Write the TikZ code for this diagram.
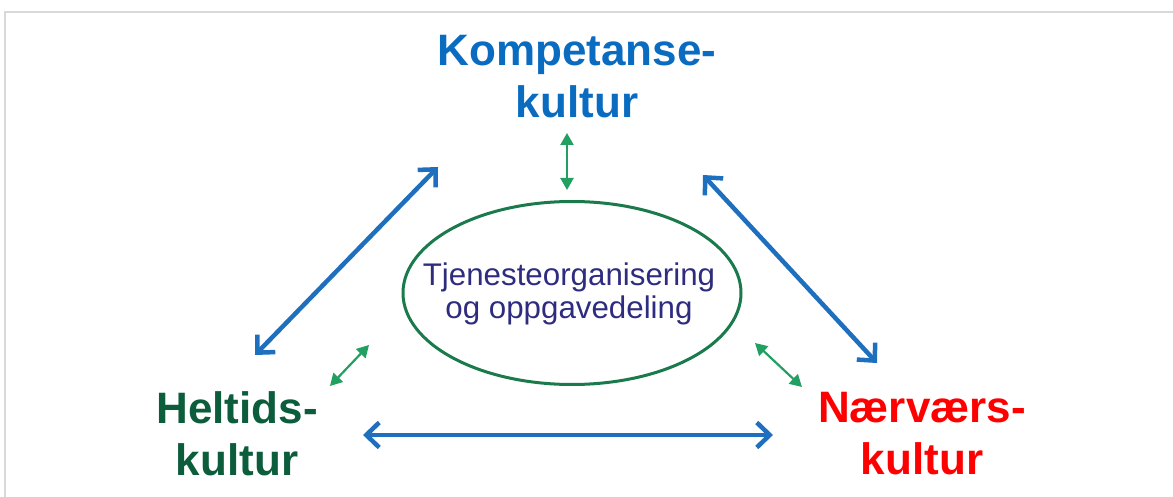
\documentclass[tikz,border=0pt]{standalone}
\usepackage{fontspec}
\setmainfont{Liberation Sans}
\usetikzlibrary{arrows.meta,shapes.geometric}
\definecolor{kblue}{HTML}{0A6CC0}
\definecolor{hgreen}{HTML}{0B5D3B}
\definecolor{nred}{HTML}{FF0000}
\definecolor{tnavy}{HTML}{2E2C7E}
\definecolor{egreen}{HTML}{1A7A4C}
\definecolor{sgreen}{HTML}{21A062}
\definecolor{bigblue}{HTML}{1F6FBF}
\definecolor{framegray}{HTML}{D9D9D9}
\tikzset{
  culture/.style={font=\bfseries\fontsize{44}{52}\selectfont, align=center, inner sep=0pt},
  bigarrow/.style={bigblue, line width=4.5pt, {Straight Barb[length=13pt,width=25pt,line width=4.5pt]}-{Straight Barb[length=13pt,width=25pt,line width=4.5pt]}},
  smallarrow/.style={sgreen, line width=2.2pt, {Triangle[length=12pt,width=13pt]}-{Triangle[length=12pt,width=13pt]}},
}
\begin{document}
\begin{tikzpicture}[x=1pt,y=-1pt]
\useasboundingbox (0,0) rectangle (1173,497);
\draw[framegray, line width=2pt] (5,497) -- (5,12) -- (1173,12);

\node[culture, text=kblue] (K) at (577,77) {Kompetanse-\\kultur};
\node[culture, text=hgreen] (H) at (237,434) {Heltids-\\kultur};
\node[culture, text=nred] (N) at (922,434) {Nærværs-\\kultur};

\node[draw=egreen, line width=3pt, ellipse, minimum width=338pt, minimum height=183pt, inner sep=0pt] (E) at (572,293) {};
\node[font=\fontsize{31.3}{33}\selectfont, text=tnavy, align=center, inner sep=0pt] (T) at (569,294) {Tjenesteorganisering\\og oppgavedeling};

\coordinate (hk1) at (255,355);
\coordinate (hk2) at (438,167);
\coordinate (kn1) at (703,175);
\coordinate (kn2) at (877,363);
\coordinate (hn1) at (363,435);
\coordinate (hn2) at (773,435);
\draw[bigarrow] (hk1) -- (hk2);
\draw[bigarrow] (kn1) -- (kn2);
\draw[bigarrow] (hn1) -- (hn2);

\coordinate (ke1) at (567,133);
\coordinate (ke2) at (567,190);
\coordinate (he1) at (330,386);
\coordinate (he2) at (369,345);
\coordinate (ne1) at (755,343);
\coordinate (ne2) at (802,387);
\draw[smallarrow] (ke1) -- (ke2);
\draw[smallarrow] (he1) -- (he2);
\draw[smallarrow] (ne1) -- (ne2);
\end{tikzpicture}
\end{document}
